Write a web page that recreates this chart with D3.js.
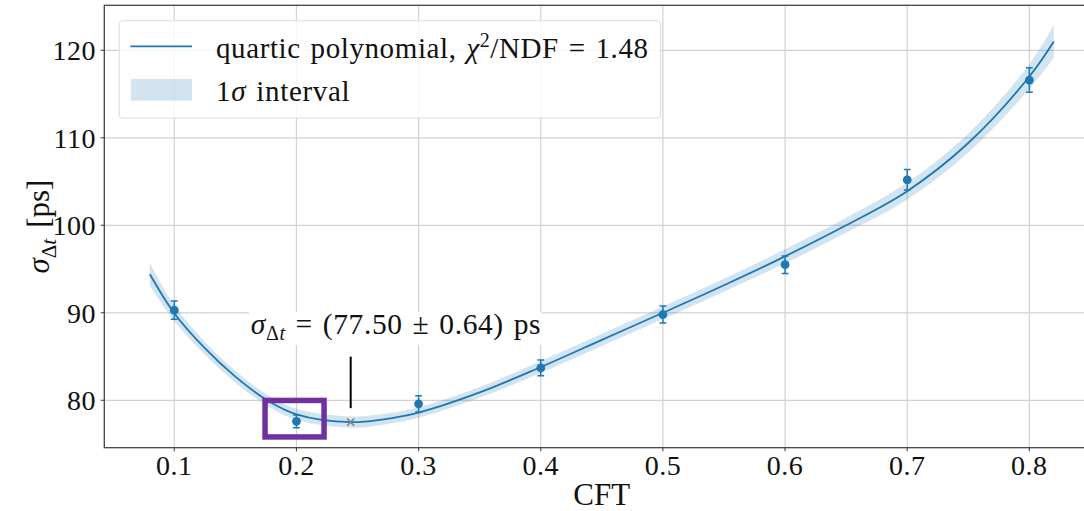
<!DOCTYPE html>
<html>
<head>
<meta charset="utf-8">
<script src="https://cdn.jsdelivr.net/npm/d3@7"></script>
<style>
  html, body { margin: 0; padding: 0; background: #fff; }
  svg { display: block; font-family: "Liberation Serif", "DejaVu Serif", serif; }
</style>
</head>
<body>
<svg id="chart" width="1084" height="511"></svg>
<script>
// Measured time resolution versus constant-fraction threshold
const cftValues = [0.1, 0.2, 0.3, 0.4, 0.5, 0.6, 0.7, 0.8];
const sigmaValues = [90.3, 77.6, 79.6, 83.7, 89.8, 95.5, 105.2, 116.6];
const sigmaErrors = [1.05, 0.73, 0.93, 0.9, 0.97, 1.0, 1.18, 1.39];

// Quartic fit curve and its 1-sigma half width
const fitX = [0.08, 0.1, 0.125, 0.15, 0.175, 0.2, 0.245, 0.27, 0.3, 0.35, 0.4, 0.45, 0.5, 0.55, 0.6, 0.65, 0.7, 0.75, 0.8, 0.82];
const fitY = [94.4, 89.95, 85.95, 82.7, 80.1, 78.4, 77.5, 77.8, 78.6, 80.9, 83.8, 86.9, 90.0, 93.15, 96.45, 100.0, 103.9, 109.4, 117.0, 121.0];
const fitBand = [1.3, 0.9, 0.75, 0.68, 0.64, 0.62, 0.64, 0.62, 0.6, 0.62, 0.68, 0.7, 0.72, 0.75, 0.8, 0.85, 0.95, 1.08, 1.4, 1.85];

// Fitted minimum
const minCft = 0.2444;
const minSigma = 77.50;
const minSigmaErr = 0.64;
const chi2ndf = 1.48;

// Highlighted region around the CFT = 0.2 point
const boxX = [0.1743, 0.2226];
const boxY = [75.81, 79.98];

const xTicks = [0.1, 0.2, 0.3, 0.4, 0.5, 0.6, 0.7, 0.8];
const yTicks = [80, 90, 100, 110, 120];

const blue = "#1f77b4";
const ink = "#111";
const svg = d3.select("#chart");
const plotL = 104.3, plotR = 1099, plotT = 5.3, plotB = 447.7;

const x = d3.scaleLinear().domain([0.0427, 0.857]).range([plotL, plotR]);
const y = d3.scaleLinear().domain([74.58, 125.14]).range([plotB, plotT]);

svg.append("defs").append("clipPath").attr("id", "plotclip")
  .append("rect").attr("x", plotL).attr("y", plotT)
  .attr("width", plotR - plotL).attr("height", plotB - plotT);

// grid
const grid = svg.append("g").attr("stroke", "#d2d2d2").attr("stroke-width", 1.2);
grid.selectAll(".gx").data(xTicks).join("line")
  .attr("x1", d => x(d)).attr("x2", d => x(d)).attr("y1", plotT).attr("y2", plotB);
grid.selectAll(".gy").data(yTicks).join("line")
  .attr("y1", d => y(d)).attr("y2", d => y(d)).attr("x1", plotL).attr("x2", plotR);

const plot = svg.append("g").attr("clip-path", "url(#plotclip)");

const fitData = fitX.map((v, i) => ({ x: v, y: fitY[i], e: fitBand[i] }));
const curve = d3.curveCatmullRom.alpha(0.5);

plot.append("path").datum(fitData)
  .attr("fill", blue).attr("fill-opacity", 0.2)
  .attr("d", d3.area().curve(curve).x(d => x(d.x)).y0(d => y(d.y - d.e)).y1(d => y(d.y + d.e)));

plot.append("path").datum(fitData)
  .attr("fill", "none").attr("stroke", blue).attr("stroke-width", 1.8)
  .attr("d", d3.line().curve(curve).x(d => x(d.x)).y(d => y(d.y)));

// data points with error bars
const pts = cftValues.map((v, i) => ({ x: v, y: sigmaValues[i], e: sigmaErrors[i] }));
const eb = plot.append("g").attr("stroke", blue).attr("stroke-width", 1.5);
eb.selectAll(".v").data(pts).join("line")
  .attr("x1", d => x(d.x)).attr("x2", d => x(d.x))
  .attr("y1", d => y(d.y - d.e)).attr("y2", d => y(d.y + d.e));
eb.selectAll(".c1").data(pts).join("line")
  .attr("x1", d => x(d.x) - 3.4).attr("x2", d => x(d.x) + 3.4)
  .attr("y1", d => y(d.y - d.e)).attr("y2", d => y(d.y - d.e));
eb.selectAll(".c2").data(pts).join("line")
  .attr("x1", d => x(d.x) - 3.4).attr("x2", d => x(d.x) + 3.4)
  .attr("y1", d => y(d.y + d.e)).attr("y2", d => y(d.y + d.e));
plot.append("g").selectAll("circle").data(pts).join("circle")
  .attr("cx", d => x(d.x)).attr("cy", d => y(d.y)).attr("r", 4.4).attr("fill", blue);

// minimum marker
const mx = x(minCft), my = y(minSigma);
plot.append("path")
  .attr("d", `M${mx - 3.6},${my - 3.6}L${mx + 3.6},${my + 3.6}M${mx - 3.6},${my + 3.6}L${mx + 3.6},${my - 3.6}`)
  .attr("stroke", "#808080").attr("stroke-width", 1.6);

// highlight box
plot.append("rect")
  .attr("x", x(boxX[0])).attr("y", y(boxY[1]))
  .attr("width", x(boxX[1]) - x(boxX[0])).attr("height", y(boxY[0]) - y(boxY[1]))
  .attr("fill", "none").attr("stroke", "#7030a0").attr("stroke-width", 5.5);

// annotation with white box
const ann = svg.append("g");
ann.append("rect").attr("x", 249).attr("y", 312).attr("width", 292.7).attr("height", 33).attr("fill", "#fff");
ann.append("line").attr("x1", mx).attr("x2", mx).attr("y1", my - 65.5).attr("y2", my - 14)
  .attr("stroke", "#000").attr("stroke-width", 2);
const annText = ann.append("text").attr("x", 396).attr("y", 334).attr("text-anchor", "middle")
  .attr("font-size", 29.5).attr("fill", ink).attr("letter-spacing", 0.6).attr("word-spacing", 2);
annText.append("tspan").attr("font-style", "italic").text("σ");
annText.append("tspan").attr("font-size", 20).attr("dy", 6).text("Δ");
annText.append("tspan").attr("font-size", 20).attr("font-style", "italic").text("t");
annText.append("tspan").attr("dy", -6).text(` = (${minSigma.toFixed(2)} ± ${minSigmaErr.toFixed(2)}) ps`);

// spines
const sp = svg.append("g").attr("stroke", "#444").attr("stroke-width", 1.3).attr("fill", "none");
sp.append("rect").attr("x", plotL).attr("y", plotT).attr("width", plotR - plotL).attr("height", plotB - plotT);

// ticks
const tk = svg.append("g").attr("stroke", "#444").attr("stroke-width", 1.1);
tk.selectAll(".tx").data(xTicks).join("line")
  .attr("x1", d => x(d)).attr("x2", d => x(d)).attr("y1", plotB).attr("y2", plotB + 3.5);
tk.selectAll(".ty").data(yTicks).join("line")
  .attr("y1", d => y(d)).attr("y2", d => y(d)).attr("x1", plotL).attr("x2", plotL - 3.5);

svg.append("g").selectAll("text").data(xTicks).join("text")
  .attr("x", d => x(d)).attr("y", 475).attr("text-anchor", "middle")
  .attr("font-size", 28).attr("fill", ink).attr("letter-spacing", 0.5).text(d => d3.format(".1f")(d));
svg.append("g").selectAll("text").data(yTicks).join("text")
  .attr("x", 96).attr("y", d => y(d) + 10).attr("text-anchor", "end")
  .attr("font-size", 28).attr("fill", ink).attr("letter-spacing", 0.5).text(d => d);

// axis labels
svg.append("text").attr("x", (plotL + plotR) / 2).attr("y", 505).attr("text-anchor", "middle")
  .attr("font-size", 31).attr("fill", ink).text("CFT");
const yl = svg.append("text").attr("transform", `translate(49,${(plotT + plotB) / 2}) rotate(-90)`)
  .attr("text-anchor", "middle").attr("font-size", 31).attr("fill", ink);
yl.append("tspan").attr("font-style", "italic").text("σ");
yl.append("tspan").attr("font-size", 21).attr("dy", 7).text("Δ");
yl.append("tspan").attr("font-size", 21).attr("font-style", "italic").text("t");
yl.append("tspan").attr("dy", -7).attr("dx", 11).text("[ps]");

// legend
const lg = svg.append("g");
lg.append("rect").attr("x", 119.3).attr("y", 20.7).attr("width", 541.2).attr("height", 97.3)
  .attr("rx", 3).attr("fill", "#fff").attr("fill-opacity", 0.8).attr("stroke", "#dcdcdc").attr("stroke-width", 1);
lg.append("line").attr("x1", 130.3).attr("x2", 192).attr("y1", 46.3).attr("y2", 46.3)
  .attr("stroke", blue).attr("stroke-width", 1.8);
lg.append("rect").attr("x", 131).attr("y", 79).attr("width", 61).attr("height", 21.7)
  .attr("fill", blue).attr("fill-opacity", 0.2);
const l1 = lg.append("text").attr("x", 216).attr("y", 57.5).attr("font-size", 29).attr("fill", ink)
  .attr("letter-spacing", 0.6).attr("word-spacing", 2);
l1.append("tspan").text("quartic polynomial, ");
l1.append("tspan").attr("font-style", "italic").text("χ");
l1.append("tspan").attr("font-size", 20).attr("dy", -11).text("2");
l1.append("tspan").attr("dy", 11).text(`/NDF = ${chi2ndf.toFixed(2)}`);
const l2 = lg.append("text").attr("x", 216).attr("y", 100.5).attr("font-size", 29).attr("fill", ink)
  .attr("letter-spacing", 0.7).attr("word-spacing", 2);
l2.append("tspan").text("1");
l2.append("tspan").attr("font-style", "italic").text("σ");
l2.append("tspan").text(" interval");
</script>
</body>
</html>
